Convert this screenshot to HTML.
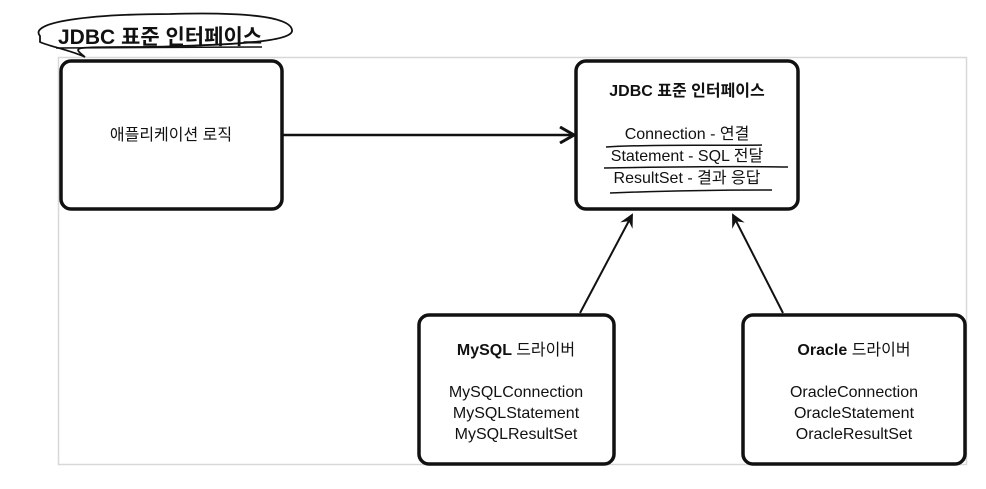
<!DOCTYPE html>
<html><head><meta charset="utf-8"><style>
body{margin:0;background:#fff;width:986px;height:484px;overflow:hidden;font-family:"Liberation Sans","Noto Sans CJK KR",sans-serif}
svg text{font-family:"Liberation Sans","Noto Sans CJK KR",sans-serif;fill:#111}
</style></head><body>
<svg width="986" height="484" viewBox="0 0 986 484">
<defs><marker id="ah" markerWidth="14" markerHeight="14" refX="12" refY="7" orient="auto" markerUnits="userSpaceOnUse"><path d="M0,0 L14,7 L0,14 L5,7 Z" fill="#111"/></marker>
<marker id="ah2" markerWidth="18" markerHeight="18" refX="16" refY="9" orient="auto" markerUnits="userSpaceOnUse"><path d="M2,1 L16,9 L2,17" fill="none" stroke="#111" stroke-width="3"/></marker></defs>
<rect x="58.5" y="57.5" width="908" height="407" fill="none" stroke="#d8d8d8" stroke-width="1.5"/>
<path d="M40,36 C28,22 90,14 170,14 C240,12 290,16 292,30 C294,40 250,44 180,46 C140,48 100,46 82,48 C74,49 80,53 85,57 C70,50 48,46 40,42 Z" fill="none" stroke="#111" stroke-width="1.8"/>
<text x="58" y="44" font-size="21" font-weight="bold" fill="#111">JDBC 표준 인터페이스</text>
<line x1="56" y1="48" x2="262" y2="47" stroke="#111" stroke-width="1.5"/>
<rect x="61" y="61" width="221" height="148" rx="10" fill="#fff" stroke="#111" stroke-width="3.5"/>
<text x="171" y="140" font-size="16" text-anchor="middle">애플리케이션 로직</text>
<rect x="576" y="61" width="222" height="148" rx="10" fill="#fff" stroke="#111" stroke-width="3.5"/>
<text x="687" y="96" font-size="16" font-weight="bold" text-anchor="middle">JDBC 표준 인터페이스</text>
<text x="687" y="139" font-size="16" text-anchor="middle">Connection - 연결</text>
<text x="687" y="161" font-size="16" text-anchor="middle">Statement - SQL 전달</text>
<text x="687" y="183" font-size="16" text-anchor="middle">ResultSet - 결과 응답</text>
<path d="M606,147 C650,144 720,146 762,145" stroke="#111" stroke-width="1.5" fill="none"/>
<path d="M604,168 C660,167 730,166 788,167" stroke="#111" stroke-width="1.5" fill="none"/>
<path d="M610,193 C660,191 720,190 772,190" stroke="#111" stroke-width="1.5" fill="none"/>
<line x1="283" y1="135" x2="574" y2="135" stroke="#111" stroke-width="2.5" marker-end="url(#ah2)"/>
<line x1="580" y1="313" x2="632" y2="215" stroke="#111" stroke-width="2" marker-end="url(#ah)"/>
<line x1="783" y1="313" x2="733" y2="215" stroke="#111" stroke-width="2" marker-end="url(#ah)"/>
<rect x="419" y="315" width="195" height="149" rx="10" fill="#fff" stroke="#111" stroke-width="3.5"/>
<text x="516" y="355" font-size="16" font-weight="bold" text-anchor="middle">MySQL <tspan font-weight="normal">드라이버</tspan></text>
<text x="516" y="397" font-size="16" text-anchor="middle">MySQLConnection</text>
<text x="516" y="418" font-size="16" text-anchor="middle">MySQLStatement</text>
<text x="516" y="439" font-size="16" text-anchor="middle">MySQLResultSet</text>
<rect x="743" y="315" width="222" height="149" rx="10" fill="#fff" stroke="#111" stroke-width="3.5"/>
<text x="854" y="355" font-size="16" font-weight="bold" text-anchor="middle">Oracle <tspan font-weight="normal">드라이버</tspan></text>
<text x="854" y="397" font-size="16" text-anchor="middle">OracleConnection</text>
<text x="854" y="418" font-size="16" text-anchor="middle">OracleStatement</text>
<text x="854" y="439" font-size="16" text-anchor="middle">OracleResultSet</text>
</svg>
</body></html>
